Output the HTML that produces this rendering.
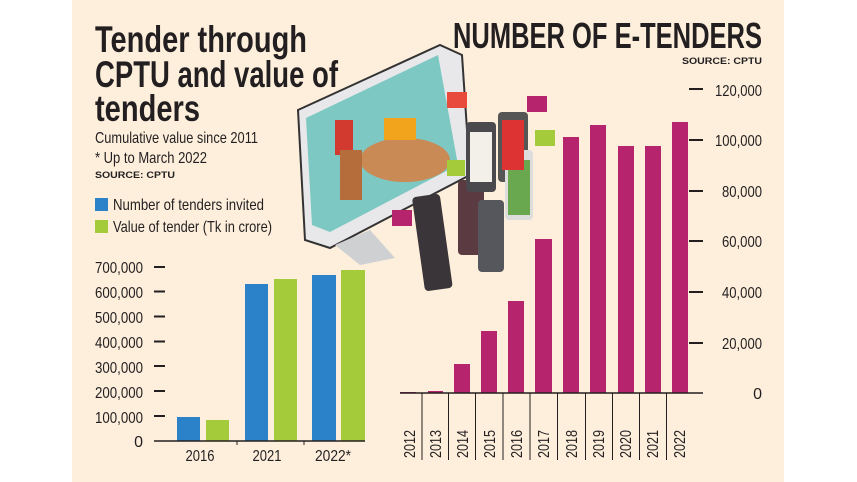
<!DOCTYPE html>
<html><head><meta charset="utf-8"><style>
html,body{margin:0;padding:0;background:#fff;}
svg{display:block;}
text{font-family:"Liberation Sans Narrow","Liberation Sans",sans-serif;fill:#231f20;}
</style></head><body>
<svg width="857" height="482" viewBox="0 0 857 482" xmlns="http://www.w3.org/2000/svg">
<rect x="72" y="0" width="712" height="482" fill="#fdefdc"/>
<g font-weight="bold" font-size="37">
<text x="95" y="52" textLength="212" lengthAdjust="spacingAndGlyphs">Tender through</text>
<text x="95" y="87" textLength="243" lengthAdjust="spacingAndGlyphs">CPTU and value of</text>
<text x="95" y="121" textLength="105" lengthAdjust="spacingAndGlyphs">tenders</text>
</g>
<text x="95" y="143" font-size="16" textLength="163" lengthAdjust="spacingAndGlyphs">Cumulative value since 2011</text>
<text x="95" y="163" font-size="16" textLength="112" lengthAdjust="spacingAndGlyphs">* Up to March 2022</text>
<text x="95" y="178" font-size="9.5" font-weight="bold" font-family="Liberation Sans" textLength="80" lengthAdjust="spacingAndGlyphs">SOURCE: CPTU</text>
<rect x="95" y="198" width="13" height="13" fill="#2c82c9"/>
<rect x="95" y="220" width="13" height="13" fill="#a4cc3a"/>
<text x="113" y="210" font-size="16" textLength="151" lengthAdjust="spacingAndGlyphs">Number of tenders invited</text>
<text x="113" y="232" font-size="16" textLength="159" lengthAdjust="spacingAndGlyphs">Value of tender (Tk in crore)</text>
<!-- illustration (simplified) -->
<polygon points="298,110 440,45 462,55 470,175 330,248 305,240" fill="#e8e8ea" stroke="#333" stroke-width="2"/>
<polygon points="306,118 438,55 458,165 330,232 312,225" fill="#7dc8c3"/>
<polygon points="335,245 370,230 395,258 360,265" fill="#cfd0d2"/>
<ellipse cx="405" cy="160" rx="45" ry="22" fill="#c98a55"/>
<rect x="384" y="118" width="32" height="22" fill="#f2a51c"/>
<rect x="335" y="120" width="18" height="35" fill="#d23a2f"/>
<rect x="340" y="150" width="22" height="50" fill="#b56d3c"/>
<rect x="418" y="195" width="28" height="95" rx="4" fill="#3a3538" transform="rotate(-8 432 240)"/>
<rect x="458" y="180" width="26" height="75" rx="4" fill="#5b3a42"/>
<rect x="478" y="200" width="26" height="72" rx="4" fill="#55575c"/>
<rect x="466" y="122" width="30" height="70" rx="4" fill="#4a4a4e"/>
<rect x="498" y="112" width="30" height="70" rx="4" fill="#555"/>
<rect x="505" y="150" width="28" height="70" rx="4" fill="#ddd"/>
<rect x="508" y="160" width="22" height="55" fill="#6aa84f"/>
<rect x="470" y="132" width="22" height="50" fill="#f3f0ea"/>
<rect x="502" y="120" width="22" height="50" fill="#d33"/>
<rect x="447" y="92" width="20" height="16" fill="#e84a3c"/>
<rect x="527" y="96" width="20" height="16" fill="#b5246d"/>
<rect x="535" y="130" width="20" height="16" fill="#a4cc3a"/>
<rect x="447" y="160" width="18" height="16" fill="#a4cc3a"/>
<rect x="392" y="210" width="20" height="16" fill="#b5246d"/>
<!-- left chart -->
<g font-size="16" text-anchor="end" lengthAdjust="spacingAndGlyphs">
<text x="143" y="273" textLength="48" lengthAdjust="spacingAndGlyphs">700,000</text><text x="143" y="298" textLength="48" lengthAdjust="spacingAndGlyphs">600,000</text><text x="143" y="323" textLength="48" lengthAdjust="spacingAndGlyphs">500,000</text>
<text x="143" y="348" textLength="48" lengthAdjust="spacingAndGlyphs">400,000</text><text x="143" y="373" textLength="48" lengthAdjust="spacingAndGlyphs">300,000</text><text x="143" y="398" textLength="48" lengthAdjust="spacingAndGlyphs">200,000</text>
<text x="143" y="423" textLength="48" lengthAdjust="spacingAndGlyphs">100,000</text><text x="143" y="447">0</text>
</g>
<g stroke="#231f20" stroke-width="2">
<line x1="154" x2="165" y1="267" y2="267"/><line x1="154" x2="165" y1="291.5" y2="291.5"/><line x1="154" x2="165" y1="316.5" y2="316.5"/>
<line x1="154" x2="165" y1="341.5" y2="341.5"/><line x1="154" x2="165" y1="366" y2="366"/><line x1="154" x2="165" y1="391" y2="391"/>
<line x1="154" x2="165" y1="416" y2="416"/>
</g>
<rect x="177" y="417" width="23" height="24" fill="#2c82c9"/>
<rect x="206" y="420" width="23" height="21" fill="#a4cc3a"/>
<rect x="245" y="284" width="23" height="157" fill="#2c82c9"/>
<rect x="274" y="279" width="23" height="162" fill="#a4cc3a"/>
<rect x="312" y="275" width="24" height="166" fill="#2c82c9"/>
<rect x="341" y="270" width="24" height="171" fill="#a4cc3a"/>
<line x1="154" x2="365" y1="441" y2="441" stroke="#231f20" stroke-width="1.5"/>
<line x1="237" x2="237" y1="441" y2="445" stroke="#231f20"/>
<line x1="304" x2="304" y1="441" y2="445" stroke="#231f20"/>
<g font-size="16" text-anchor="middle">
<text x="200" y="461" textLength="29" lengthAdjust="spacingAndGlyphs">2016</text><text x="267" y="461" textLength="29" lengthAdjust="spacingAndGlyphs">2021</text><text x="333" y="461" textLength="36" lengthAdjust="spacingAndGlyphs">2022*</text>
</g>
<!-- right chart -->
<text x="762" y="48" font-size="36" font-weight="bold" text-anchor="end" textLength="309" lengthAdjust="spacingAndGlyphs">NUMBER OF E-TENDERS</text>
<text x="762" y="64" font-size="9.5" font-weight="bold" font-family="Liberation Sans" text-anchor="end" textLength="80" lengthAdjust="spacingAndGlyphs">SOURCE: CPTU</text>
<g font-size="16" text-anchor="end">
<text x="762" y="96" textLength="47" lengthAdjust="spacingAndGlyphs">120,000</text><text x="762" y="146" textLength="47" lengthAdjust="spacingAndGlyphs">100,000</text><text x="762" y="197" textLength="40" lengthAdjust="spacingAndGlyphs">80,000</text>
<text x="762" y="247" textLength="40" lengthAdjust="spacingAndGlyphs">60,000</text><text x="762" y="298" textLength="40" lengthAdjust="spacingAndGlyphs">40,000</text><text x="762" y="349" textLength="40" lengthAdjust="spacingAndGlyphs">20,000</text>
<text x="762" y="399">0</text>
</g>
<g stroke="#231f20" stroke-width="2">
<line x1="689" x2="703" y1="89" y2="89"/><line x1="689" x2="703" y1="140" y2="140"/><line x1="689" x2="703" y1="191" y2="191"/>
<line x1="689" x2="703" y1="241" y2="241"/><line x1="689" x2="703" y1="292" y2="292"/><line x1="689" x2="703" y1="343" y2="343"/>
</g>
<g fill="#b5246d">
<rect x="400" y="392" width="16" height="1"/>
<rect x="428" y="391" width="15" height="2"/>
<rect x="454" y="364" width="16" height="29"/>
<rect x="481" y="331" width="16" height="62"/>
<rect x="508" y="301" width="16" height="92"/>
<rect x="535" y="239" width="17" height="154"/>
<rect x="563" y="137" width="16" height="256"/>
<rect x="590" y="125" width="16" height="268"/>
<rect x="618" y="146" width="16" height="247"/>
<rect x="645" y="146" width="16" height="247"/>
<rect x="672" y="122" width="16" height="271"/>
</g>
<line x1="400" x2="703" y1="393" y2="393" stroke="#231f20" stroke-width="1.5"/>
<g stroke="#231f20" stroke-width="1">
<line x1="422" x2="422" y1="393" y2="460"/><line x1="448.5" x2="448.5" y1="393" y2="460"/><line x1="475.5" x2="475.5" y1="393" y2="460"/>
<line x1="503" x2="503" y1="393" y2="460"/><line x1="530" x2="530" y1="393" y2="460"/><line x1="557.5" x2="557.5" y1="393" y2="460"/>
<line x1="585.5" x2="585.5" y1="393" y2="460"/><line x1="612.5" x2="612.5" y1="393" y2="460"/><line x1="639.5" x2="639.5" y1="393" y2="460"/>
<line x1="666.5" x2="666.5" y1="393" y2="460"/>
</g>
<g font-size="16">
<text transform="translate(415,458) rotate(-90)" textLength="28" lengthAdjust="spacingAndGlyphs">2012</text>
<text transform="translate(441,458) rotate(-90)" textLength="28" lengthAdjust="spacingAndGlyphs">2013</text>
<text transform="translate(468,458) rotate(-90)" textLength="28" lengthAdjust="spacingAndGlyphs">2014</text>
<text transform="translate(495,458) rotate(-90)" textLength="28" lengthAdjust="spacingAndGlyphs">2015</text>
<text transform="translate(522,458) rotate(-90)" textLength="28" lengthAdjust="spacingAndGlyphs">2016</text>
<text transform="translate(549,458) rotate(-90)" textLength="28" lengthAdjust="spacingAndGlyphs">2017</text>
<text transform="translate(577,458) rotate(-90)" textLength="28" lengthAdjust="spacingAndGlyphs">2018</text>
<text transform="translate(604,458) rotate(-90)" textLength="28" lengthAdjust="spacingAndGlyphs">2019</text>
<text transform="translate(631,458) rotate(-90)" textLength="28" lengthAdjust="spacingAndGlyphs">2020</text>
<text transform="translate(658,458) rotate(-90)" textLength="28" lengthAdjust="spacingAndGlyphs">2021</text>
<text transform="translate(685,458) rotate(-90)" textLength="28" lengthAdjust="spacingAndGlyphs">2022</text>
</g>
</svg>
</body></html>
